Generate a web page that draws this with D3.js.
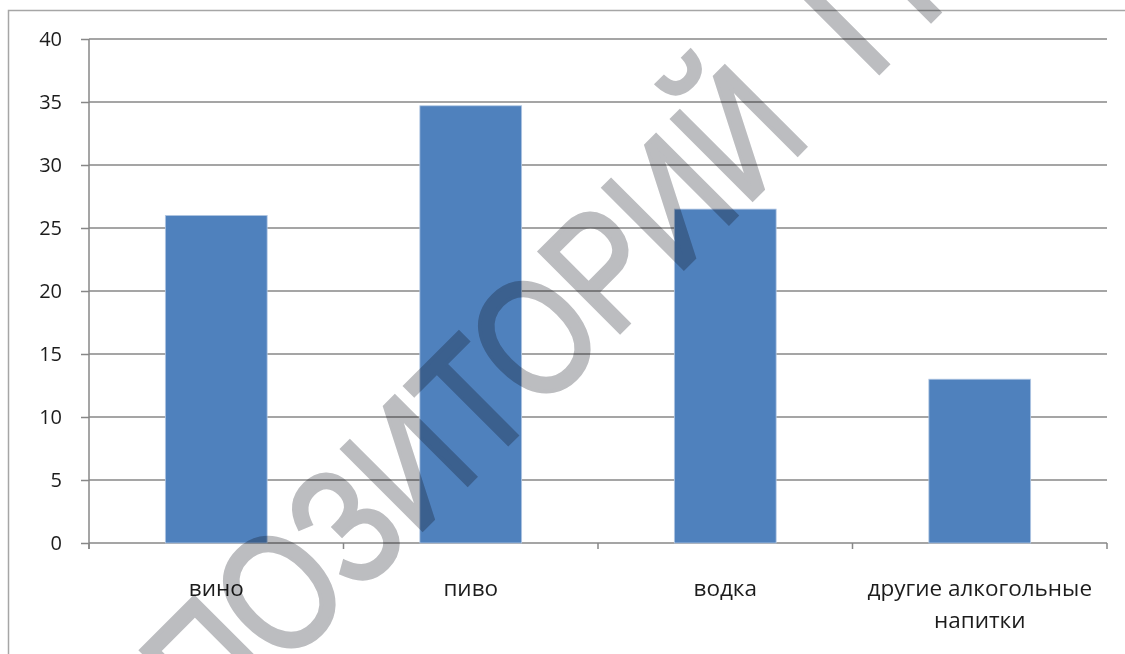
<!DOCTYPE html>
<html>
<head>
<meta charset="utf-8">
<script src="https://cdn.jsdelivr.net/npm/d3@7"></script>
<style>
  body { margin: 0; background: #fff; }
  svg { display: block; }
  .tick text { font-family: "Open Sans", "DejaVu Sans", sans-serif; font-size: 20px; fill: #1c1c1c; }
  .cat-label { font-family: "Open Sans", "DejaVu Sans", sans-serif; font-size: 22.5px; fill: #1c1c1c; }
  .wm { mix-blend-mode: multiply; }
</style>
</head>
<body>
<svg id="chart" width="1125" height="654"></svg>
<script>
// data
const categories = ["вино", "пиво", "водка", "другие алкогольные напитки"];
const catLines = [["вино"], ["пиво"], ["водка"], ["другие алкогольные", "напитки"]];
const values = [26, 34.7, 26.5, 13];
const yTicks = [0, 5, 10, 15, 20, 25, 30, 35, 40];

const svg = d3.select("#chart");
const margin = { top: 39, left: 89, right: 18, bottom: 111 };
const width = +svg.attr("width");
const height = +svg.attr("height");
const innerW = width - margin.left - margin.right;
const innerH = height - margin.top - margin.bottom;

// outer chart frame (cropped by the picture)
svg.append("rect")
    .attr("x", 8.5).attr("y", 10.5)
    .attr("width", 1200).attr("height", 800)
    .attr("fill", "none")
    .attr("stroke", "#a6a6a6")
    .attr("stroke-width", 1.5);

const g = svg.append("g")
    .attr("transform", `translate(${margin.left},${margin.top})`);

const x = d3.scaleBand().domain(categories).range([0, innerW]).paddingInner(0.6).paddingOuter(0.3);
const xEdge = d3.scaleLinear().domain([0, categories.length]).range([0, innerW]);
const y = d3.scaleLinear().domain([0, 40]).range([innerH, 0]);

// gridlines + y ticks
const yAxis = d3.axisLeft(y).tickValues(yTicks).tickSize(8).tickPadding(19).tickFormat(d3.format("d"));
const yAxisG = g.append("g").call(yAxis);
yAxisG.select(".domain").remove();
yAxisG.selectAll(".tick line").attr("stroke", "#878787").attr("stroke-width", 1.5);

g.append("g")
    .selectAll("line")
    .data(yTicks)
    .join("line")
    .attr("x1", 0).attr("x2", innerW)
    .attr("y1", d => y(d)).attr("y2", d => y(d))
    .attr("stroke", "#878787")
    .attr("stroke-width", 1.5);

// y axis line
g.append("line")
    .attr("x1", 0).attr("x2", 0)
    .attr("y1", 0).attr("y2", innerH + 6)
    .attr("stroke", "#878787").attr("stroke-width", 1.5);

// x category tick marks
g.append("g")
    .selectAll("line")
    .data(d3.range(categories.length + 1))
    .join("line")
    .attr("x1", d => xEdge(d)).attr("x2", d => xEdge(d))
    .attr("y1", innerH).attr("y2", innerH + 6)
    .attr("stroke", "#878787").attr("stroke-width", 1.5);

// bars
g.append("g")
    .selectAll("rect")
    .data(values)
    .join("rect")
    .attr("x", (d, i) => x(categories[i]))
    .attr("width", x.bandwidth())
    .attr("y", d => y(d))
    .attr("height", d => innerH - y(d))
    .attr("fill", "#4f81bd")
    .attr("stroke", "#b3c8e3")
    .attr("stroke-width", 0.8);

// category labels
const labels = g.append("g")
    .selectAll("text")
    .data(catLines)
    .join("text")
    .attr("class", "cat-label")
    .attr("text-anchor", "middle")
    .attr("x", (d, i) => x(categories[i]) + x.bandwidth() / 2)
    .attr("y", innerH + 53);
labels.selectAll("tspan")
    .data(d => d)
    .join("tspan")
    .attr("x", function () { return d3.select(this.parentNode).attr("x"); })
    .attr("dy", (d, i) => i === 0 ? 0 : 32)
    .text(d => d);

// watermark
const wm = svg.append("text")
    .attr("class", "wm")
    .attr("transform", "translate(86,866) rotate(-45) scale(0.82,1)")
    .attr("font-family", "Liberation Sans, Arial, sans-serif")
    .attr("font-size", 165)
    .attr("fill", "#bcbdc0")
    .attr("stroke", "#bcbdc0")
    .attr("stroke-width", 4)
    .attr("stroke-linejoin", "miter");
wm.append("tspan").text("РЕПОЗИТОРИЙ");
wm.append("tspan").attr("dx", 100).text("ГГУ");
</script>
</body>
</html>
